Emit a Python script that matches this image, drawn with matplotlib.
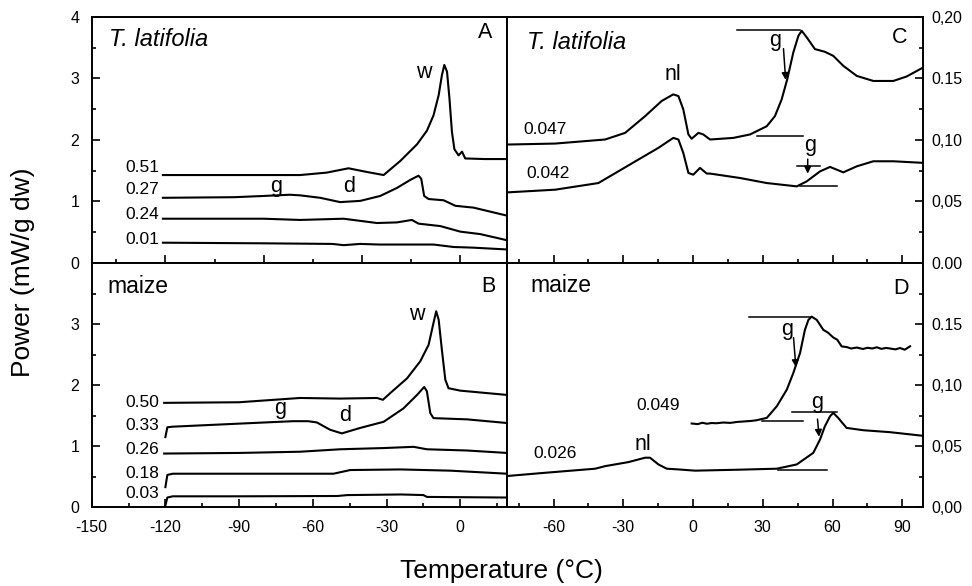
import numpy as np
import matplotlib
matplotlib.use("Agg")
import matplotlib.pyplot as plt
from matplotlib.ticker import MultipleLocator

plt.rcParams['font.family'] = ['Liberation Sans', 'DejaVu Sans']
plt.rcParams['axes.unicode_minus'] = False

# ---- panel A : T. latifolia, low temperature scans (mW/g dw)
a051_t = [-121, -90, -65.2, -54.3, -45.5, -38, -31.2, -24.4, -17.6, -13.6, -10.9, -8.8, -7.5, -6.5, -5.4, -4.4,
          -3.4, -2.4, -0.7, 0.7, 2, 10, 19]
a051_p = [1.43, 1.43, 1.43, 1.47, 1.54, 1.48, 1.43, 1.66, 1.93, 2.15, 2.40, 2.73, 3.05, 3.22, 3.11, 2.67,
          2.13, 1.85, 1.75, 1.81, 1.70, 1.69, 1.69]
a027_t = [-121, -92, -80, -69.4, -65.2, -57, -48.9, -40.7, -32.6, -25.8, -20.4, -17, -15.9, -14.7, -12.9, -6.8,
          -2, 5.4, 19]
a027_p = [1.06, 1.07, 1.09, 1.11, 1.10, 1.06, 0.99, 1.01, 1.09, 1.22, 1.35, 1.42, 1.37, 1.09, 1.04, 1.02,
          0.93, 0.90, 0.77]
a024_t = [-121, -80, -65.2, -47.5, -33.9, -25.8, -19.7, -17, -8.1, 0, 8.1, 19]
a024_p = [0.72, 0.72, 0.70, 0.72, 0.65, 0.66, 0.70, 0.64, 0.60, 0.51, 0.47, 0.37]
a001_t = [-121, -80, -52, -47.5, -40.8, -32.6, -10.9, -2.7, 5, 19]
a001_p = [0.33, 0.32, 0.31, 0.29, 0.31, 0.30, 0.30, 0.26, 0.25, 0.22]

# ---- panel B : maize
b050_t = [-120.5, -90, -65.2, -48.9, -33.9, -31.5, -28.5, -21.7, -16.3, -12.9, -10.9, -9.8, -8.8, -7.5, -6.1,
          -4.8, 0, 19]
b050_p = [1.71, 1.72, 1.79, 1.78, 1.79, 1.76, 1.87, 2.11, 2.39, 2.66, 3.02, 3.21, 3.07, 2.58, 2.09,
          1.95, 1.91, 1.84]
b033_t = [-120, -119.2, -117, -90, -68, -62, -58.4, -53, -48.2, -40.7, -31.2, -23.1, -17.6, -14.7, -13.6,
          -12.2, -10.9, 2.7, 19]
b033_p = [1.15, 1.31, 1.32, 1.37, 1.41, 1.41, 1.39, 1.27, 1.21, 1.30, 1.40, 1.62, 1.84, 1.97, 1.90,
          1.54, 1.46, 1.44, 1.38]
b026_t = [-120.5, -90, -65.2, -48.9, -31.2, -19, -13.6, 2.7, 19]
b026_p = [0.88, 0.89, 0.91, 0.95, 0.97, 0.99, 0.95, 0.93, 0.89]
b018_t = [-120, -119.2, -117, -90, -51.6, -44.8, -24.4, -4.1, 19]
b018_p = [0.33, 0.53, 0.55, 0.55, 0.55, 0.61, 0.62, 0.60, 0.55]
b003_t = [-120, -119.2, -117, -90, -50, -46, -24, -15, -13.6, 19]
b003_p = [0.03, 0.16, 0.18, 0.18, 0.185, 0.20, 0.21, 0.20, 0.17, 0.16]

# ---- panel C : T. latifolia, high temperature scans
c047_t = [-80, -59.3, -37.8, -29.2, -20.6, -13.5, -8.5, -6.3, -4.2, -2, -0.6, 2.3, 4.4, 7.3, 17.3, 24.5,
          31.7, 35.2, 38.1, 40.5, 43.1, 45.3, 46.7, 48.9, 52.4, 56.7, 60.3, 64.6, 70.4, 77.5, 86.1, 91.8, 99]
c047_p = [0.0963, 0.0971, 0.1004, 0.1058, 0.1194, 0.1317, 0.1371, 0.1357, 0.1249, 0.1045, 0.1010, 0.1058,
          0.1045, 0.1004, 0.1017, 0.1045, 0.1112, 0.1194, 0.1330, 0.1494, 0.1711, 0.1847, 0.1888, 0.1834,
          0.1739, 0.1717, 0.1684, 0.1603, 0.1521, 0.1480, 0.1480, 0.1516, 0.1590]
c042_t = [-80, -59.3, -40.7, -23.5, -14.9, -8.5, -6.3, -4.2, -2, 0.1, 3, 5.9, 7.3, 20.2, 31.7, 44.6, 48.9,
          54.6, 58.9, 64.6, 70.4, 77.5, 86.1, 99]
c042_p = [0.0574, 0.0596, 0.0650, 0.0841, 0.0936, 0.1017, 0.1004, 0.0895, 0.0732, 0.0718, 0.0773, 0.0727,
          0.0727, 0.0691, 0.0650, 0.0623, 0.0664, 0.0745, 0.0781, 0.0737, 0.0786, 0.0827, 0.0827, 0.0814]

# ---- panel D : maize
d049_t = [-0.6, 2, 4, 6, 8, 10, 13, 16, 19, 22, 25, 27.4, 31.7, 36, 40.3, 43.1, 46, 48.1, 49.6, 51, 53.2, 56,
          58, 60.3, 62, 63.9, 66, 68, 70.4, 73, 75, 77, 79, 81, 83, 84.7, 87, 89, 91, 93.3]
d049_p = [0.0686, 0.0681, 0.0692, 0.0684, 0.0690, 0.0688, 0.0694, 0.0691, 0.0699, 0.0703, 0.0707, 0.0713,
          0.0732, 0.0827, 0.0963, 0.1099, 0.1263, 0.1453, 0.1534, 0.1561, 0.1534, 0.1453, 0.1430, 0.1390,
          0.1372, 0.1317, 0.1312, 0.1300, 0.1308, 0.1296, 0.1306, 0.1300, 0.1310, 0.1297, 0.1305, 0.1300,
          0.1293, 0.1304, 0.1290, 0.1318]
d026_t = [-80, -66.5, -42.1, -37.8, -27.8, -20.6, -18.5, -14.9, -11.3, -6.3, 0.9, 20, 36, 44.6, 51.7, 54.6,
          56.7, 58.9, 60.3, 62.4, 66, 73.2, 84.7, 99]
d026_p = [0.0256, 0.0278, 0.0316, 0.0337, 0.0370, 0.0406, 0.0406, 0.0351, 0.0316, 0.0310, 0.0300, 0.0308,
          0.0316, 0.0351, 0.0446, 0.0555, 0.0664, 0.0745, 0.0773, 0.0732, 0.0650, 0.0631, 0.0615, 0.0585]

lw = 1.5
lw_ann = 1.1
fs_tick = 11.5
fs_lab = 12.5
fs_mark = 15.5

fig = plt.figure(figsize=(9.72, 5.86), dpi=100)
axA = fig.add_axes([0.0943, 0.5512, 0.4273, 0.4198])
axB = fig.add_axes([0.0943, 0.1343, 0.4273, 0.4169])
axC = fig.add_axes([0.5216, 0.5512, 0.4283, 0.4198])
axD = fig.add_axes([0.5216, 0.1343, 0.4283, 0.4169])

for ax in (axA, axB, axC, axD):
    for s in ax.spines.values():
        s.set_linewidth(1.4)
    ax.tick_params(which='both', direction='in', width=1.2, labelsize=fs_tick)
    ax.tick_params(which='major', length=6)
    ax.tick_params(which='minor', length=3)

# left panels
for t, p in [(a051_t, a051_p), (a027_t, a027_p), (a024_t, a024_p), (a001_t, a001_p)]:
    axA.plot(t, p, color='black', lw=lw)
for t, p in [(b050_t, b050_p), (b033_t, b033_p), (b026_t, b026_p), (b018_t, b018_p), (b003_t, b003_p)]:
    axB.plot(t, p, color='black', lw=lw)

for ax in (axA, axB):
    ax.set_xlim(-150, 19)
    ax.set_ylim(0, 4)
    ax.yaxis.set_minor_locator(MultipleLocator(0.5))
    ax.tick_params(axis='y', pad=9)
axA.xaxis.set_major_locator(MultipleLocator(40))
axA.xaxis.set_minor_locator(MultipleLocator(20))
axA.tick_params(axis='x', labelbottom=False)
axA.set_yticks([0, 1, 2, 3, 4])
axB.set_xticks([-150, -120, -90, -60, -30, 0])
axB.xaxis.set_minor_locator(MultipleLocator(15))
axB.set_yticks([0, 1, 2, 3])
axB.tick_params(axis='x', pad=9)

axA.text(-143, 3.63, 'T. latifolia', style='italic', fontsize=17, va='center')
axA.text(10.2, 3.74, 'A', fontsize=fs_mark, ha='center', va='center')
axA.text(-15, 3.10, 'w', fontsize=fs_mark, ha='center', va='center')
axA.text(-74.8, 1.25, 'g', fontsize=fs_mark, ha='center', va='center')
axA.text(-45.2, 1.25, 'd', fontsize=fs_mark, ha='center', va='center')
for lab, yy in [('0.51', 1.55), ('0.27', 1.20), ('0.24', 0.79), ('0.01', 0.39)]:
    axA.text(-122.5, yy, lab, fontsize=fs_lab, ha='right', va='center')

axB.text(-143.5, 3.61, 'maize', fontsize=16.5, va='center')
axB.text(11.6, 3.61, 'B', fontsize=fs_mark, ha='center', va='center')
axB.text(-17.7, 3.15, 'w', fontsize=fs_mark, ha='center', va='center')
axB.text(-73.5, 1.62, 'g', fontsize=fs_mark, ha='center', va='center')
axB.text(-46.9, 1.51, 'd', fontsize=fs_mark, ha='center', va='center')
for lab, yy in [('0.50', 1.71), ('0.33', 1.34), ('0.26', 0.95), ('0.18', 0.56), ('0.03', 0.23)]:
    axB.text(-122.5, yy, lab, fontsize=fs_lab, ha='right', va='center')

# right panels
axC.plot(c047_t, c047_p, color='black', lw=lw)
axC.plot(c042_t, c042_p, color='black', lw=lw)
axD.plot(d049_t, d049_p, color='black', lw=lw)
axD.plot(d026_t, d026_p, color='black', lw=lw)

for ax in (axC, axD):
    ax.set_xlim(-80, 99)
    ax.set_ylim(0, 0.2)
    ax.xaxis.set_major_locator(MultipleLocator(30))
    ax.xaxis.set_minor_locator(MultipleLocator(15))
    ax.yaxis.tick_right()
    ax.yaxis.set_minor_locator(MultipleLocator(0.025))
    ax.tick_params(axis='y', which='both', left=False, right=True, pad=6)
axC.tick_params(axis='x', labelbottom=False)
axC.set_yticks([0, 0.05, 0.10, 0.15, 0.20])
axC.set_yticklabels(['0.00', '0,05', '0,10', '0.15', '0,20'])
axD.set_yticks([0, 0.05, 0.10, 0.15])
axD.set_yticklabels(['0,00', '0,05', '0,10', '0.15'])
axD.set_xticks([-60, -30, 0, 30, 60, 90])
axD.tick_params(axis='x', pad=9)

arrow = dict(arrowstyle='-|>', color='black', lw=lw_ann, mutation_scale=10)

axC.text(-71.5, 0.1793, 'T. latifolia', style='italic', fontsize=17, va='center')
axC.text(88.7, 0.183, 'C', fontsize=fs_mark, ha='center', va='center')
axC.text(-8.5, 0.1535, 'nl', fontsize=fs_mark, ha='center', va='center')
axC.text(-63.6, 0.1086, '0.047', fontsize=fs_lab, ha='center', va='center')
axC.text(-62.2, 0.0727, '0.042', fontsize=fs_lab, ha='center', va='center')
axC.plot([18.8, 45.9], [0.1896, 0.1896], color='black', lw=lw_ann)
axC.text(35.2, 0.1806, 'g', fontsize=fs_mark, ha='center', va='center')
axC.annotate('', xy=(39.9, 0.1466), xytext=(38.8, 0.1765), arrowprops=arrow)
axC.plot([27.4, 47.4], [0.1031, 0.1031], color='black', lw=lw_ann)
axC.text(50.3, 0.0955, 'g', fontsize=fs_mark, ha='center', va='center')
axC.plot([44.6, 54.6], [0.0786, 0.0786], color='black', lw=lw_ann)
axC.annotate('', xy=(49.3, 0.0704), xytext=(49.3, 0.0867), arrowprops=arrow)
axC.plot([46, 61.8], [0.0623, 0.0623], color='black', lw=lw_ann)

axD.text(-69.9, 0.1815, 'maize', fontsize=16.5, va='center')
axD.text(89.4, 0.179, 'D', fontsize=fs_mark, ha='center', va='center')
axD.text(-21.4, 0.0514, 'nl', fontsize=fs_mark, ha='center', va='center')
axD.text(-14.9, 0.0833, '0.049', fontsize=fs_lab, ha='center', va='center')
axD.text(-59.3, 0.0441, '0.026', fontsize=fs_lab, ha='center', va='center')
axD.plot([24.2, 50.3], [0.1561, 0.1561], color='black', lw=lw_ann)
axD.text(40.3, 0.1453, 'g', fontsize=fs_mark, ha='center', va='center')
axD.annotate('', xy=(44.3, 0.1126), xytext=(43.1, 0.1412), arrowprops=arrow)
axD.plot([29.5, 47.4], [0.0704, 0.0704], color='black', lw=lw_ann)
axD.text(53.2, 0.0855, 'g', fontsize=fs_mark, ha='center', va='center')
axD.plot([42.4, 61.8], [0.0778, 0.0778], color='black', lw=lw_ann)
axD.annotate('', xy=(54.3, 0.0555), xytext=(53.4, 0.0745), arrowprops=arrow)
axD.plot([36.7, 57.5], [0.0305, 0.0305], color='black', lw=lw_ann)

fig.text(0.024, 0.536, 'Power (mW/g dw)', rotation=90, fontsize=19, ha='center', va='center')
fig.text(0.516, 0.026, 'Temperature (°C)', fontsize=19, ha='center', va='center')

fig.savefig('out.png', dpi=100)
